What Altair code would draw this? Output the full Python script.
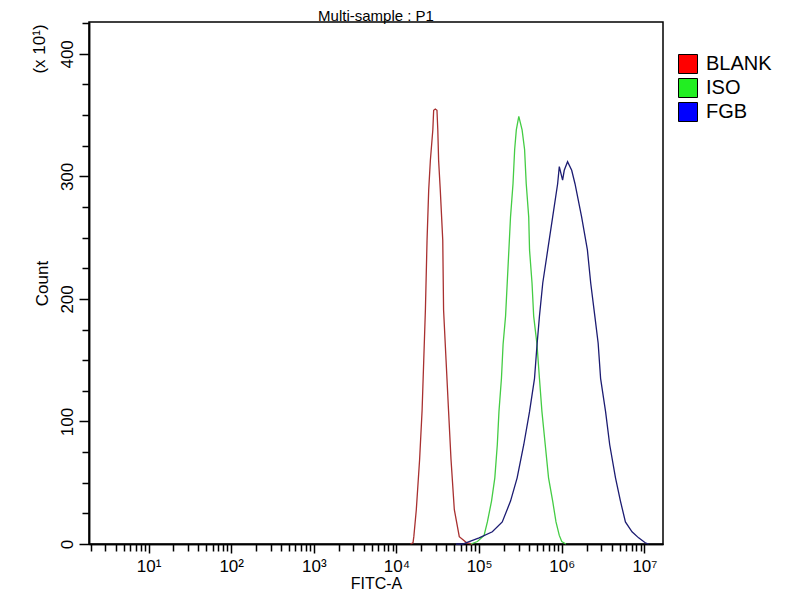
import altair as alt
import numpy as np
import pandas as pd

FONT = "Liberation Sans"

samples = ["BLANK", "ISO", "FGB"]
line_colors = ["#a83030", "#44cc44", "#1c1c72"]
legend_colors = ["#ff0000", "#22ee22", "#0000ff"]

# FITC-A position in decades (log10), counts in units of 10
blank_log = [4.17, 4.20, 4.21, 4.24, 4.28, 4.31, 4.33, 4.35, 4.37, 4.39,
             4.41, 4.44, 4.45, 4.47, 4.49, 4.50, 4.51, 4.53, 4.56, 4.57,
             4.60, 4.63, 4.66, 4.70, 4.76, 4.85, 4.92]
blank_count = [0, 1, 6, 28, 69, 109, 150, 191, 248, 289,
               313, 338, 354, 355, 354, 338, 313, 289, 248, 191,
               150, 109, 69, 28, 6, 1, 0]

iso_log = [4.90, 4.98, 5.06, 5.10, 5.15, 5.19, 5.22, 5.24, 5.27, 5.29,
           5.32, 5.34, 5.36, 5.38, 5.41, 5.43, 5.45, 5.48, 5.52, 5.55,
           5.57, 5.60, 5.61, 5.64, 5.66, 5.70, 5.73, 5.76, 5.80, 5.84,
           5.89, 5.93, 5.97, 6.00, 6.05]
iso_count = [0, 2, 7, 18, 35, 54, 81, 108, 135, 163,
             186, 213, 240, 267, 294, 322, 338, 349, 338, 322,
             294, 267, 240, 213, 186, 163, 135, 108, 81, 54,
             35, 18, 7, 2, 0]

fgb_log = [4.72, 4.80, 4.88, 5.00, 5.16, 5.28, 5.38, 5.46, 5.54, 5.61,
           5.67, 5.70, 5.73, 5.77, 5.83, 5.89, 5.95, 5.97, 6.01, 6.03,
           6.07, 6.12, 6.16, 6.24, 6.31, 6.35, 6.40, 6.44, 6.47, 6.53,
           6.58, 6.65, 6.71, 6.77, 6.85, 6.93, 7.01, 7.05]
fgb_count = [0, 0, 2, 5, 10, 18, 35, 54, 81, 108,
             135, 162, 186, 213, 240, 267, 294, 308, 297, 305,
             312, 305, 294, 267, 240, 213, 186, 164, 135, 108,
             81, 54, 35, 18, 10, 5, 1, 0]

x_major_ticks = [10.0 ** k for k in range(1, 8)]
x_minor_ticks = [m * 10.0 ** k for k in range(0, 7) for m in range(2, 10)]
y_major_ticks = [0, 100, 200, 300, 400]
y_minor_ticks = [v for v in range(25, 426, 25) if v % 100]

frames = []
for name, logs, counts in [("BLANK", blank_log, blank_count),
                           ("ISO", iso_log, iso_count),
                           ("FGB", fgb_log, fgb_count)]:
    frames.append(pd.DataFrame({"sample": name,
                                "fitc": np.power(10.0, logs),
                                "count": counts}))
df = pd.concat(frames, ignore_index=True)

x_scale = alt.Scale(type="log", domain=[10 ** 0.28, 2 ** 24], nice=False)
y_scale = alt.Scale(domain=[0, 426], nice=False)

common_axis = dict(domainColor="black", domainWidth=1.5, tickColor="black",
                   tickWidth=1.5, grid=False, labelColor="black",
                   titleColor="black", labelFont=FONT, titleFont=FONT,
                   titleFontWeight="normal")

x_axis = alt.Axis(orient="bottom", values=x_major_ticks, tickSize=9,
                  labelExpr="'10' + ['⁰','¹','²','³','⁴','⁵','⁶','⁷'][round(log(datum.value) / LN10)]",
                  labelFontSize=17, labelBaseline="alphabetic", labelPadding=18,
                  labelFlush=False, labelOverlap=False,
                  title="FITC-A", titleFontSize=16, titleBaseline="alphabetic",
                  titleY=44.5, **common_axis)
x_axis_minor = alt.Axis(orient="bottom", values=x_minor_ticks, tickSize=7,
                        labels=False, title=None, **common_axis)

y_axis = alt.Axis(orient="left", values=y_major_ticks, tickSize=10,
                  labelAngle=270, labelAlign="center", labelBaseline="alphabetic",
                  labelPadding=7, labelFontSize=17, labelOverlap=False,
                  title="Count", titleFontSize=17, titleBaseline="alphabetic",
                  titleAlign="center", titleX=-42, titleY=261, **common_axis)
y_axis_minor = alt.Axis(orient="left", values=y_minor_ticks, tickSize=7,
                        labels=False, title=None, **common_axis)

# invisible layers that only carry the major and minor axes
major_axes = alt.Chart(df).mark_line(strokeOpacity=0).encode(
    x=alt.X("fitc:Q", scale=x_scale, axis=x_axis),
    y=alt.Y("count:Q", scale=y_scale, axis=y_axis),
    detail="sample:N",
)
minor_axes = alt.Chart(df).mark_line(strokeOpacity=0).encode(
    x=alt.X("fitc:Q", scale=x_scale, axis=x_axis_minor),
    y=alt.Y("count:Q", scale=y_scale, axis=y_axis_minor),
    detail="sample:N",
)

line_layers = []
for name, color in zip(samples, line_colors):
    line_layers.append(
        alt.Chart(df).transform_filter(alt.datum.sample == name)
        .mark_line(strokeWidth=1.3, color=color)
        .encode(x=alt.X("fitc:Q", scale=x_scale, axis=None),
                y=alt.Y("count:Q", scale=y_scale, axis=None))
    )

legend_layer = alt.Chart(pd.DataFrame({"sample": samples})).mark_square(
    size=0, opacity=1, stroke="black", strokeWidth=1
).encode(
    color=alt.Color("sample:N", scale=alt.Scale(domain=samples, range=legend_colors),
                    legend=alt.Legend(orient="none", legendX=589, legendY=32, title=None,
                                      symbolType="square", symbolSize=361,
                                      symbolStrokeColor="black", symbolStrokeWidth=1,
                                      symbolOpacity=1,
                                      labelFont=FONT, labelFontSize=20, labelColor="black",
                                      labelOffset=8, rowPadding=0)),
)

scale_note = alt.Chart(pd.DataFrame({"t": ["(x 10¹)"]})).mark_text(
    angle=270, font=FONT, fontSize=17, baseline="alphabetic", align="center", color="black"
).encode(text="t:N", x=alt.value(-44), y=alt.value(27))

title_text = alt.Chart(pd.DataFrame({"t": ["Multi-sample : P1"]})).mark_text(
    font=FONT, fontSize=15, baseline="alphabetic", align="center", color="black"
).encode(text="t:N", x=alt.value(287), y=alt.value(-1))

chart = alt.layer(major_axes, minor_axes, *line_layers, legend_layer, scale_note, title_text).resolve_axis(
    x="independent", y="independent"
).properties(
    width=574, height=522,
    autosize=alt.AutoSizeParams(type="none"),
    padding={"left": 81, "top": 14, "right": 129, "bottom": 48},
).configure_view(stroke="black", strokeWidth=1.5)

chart.save("out.html", embed_options={"renderer": "svg", "actions": False})
